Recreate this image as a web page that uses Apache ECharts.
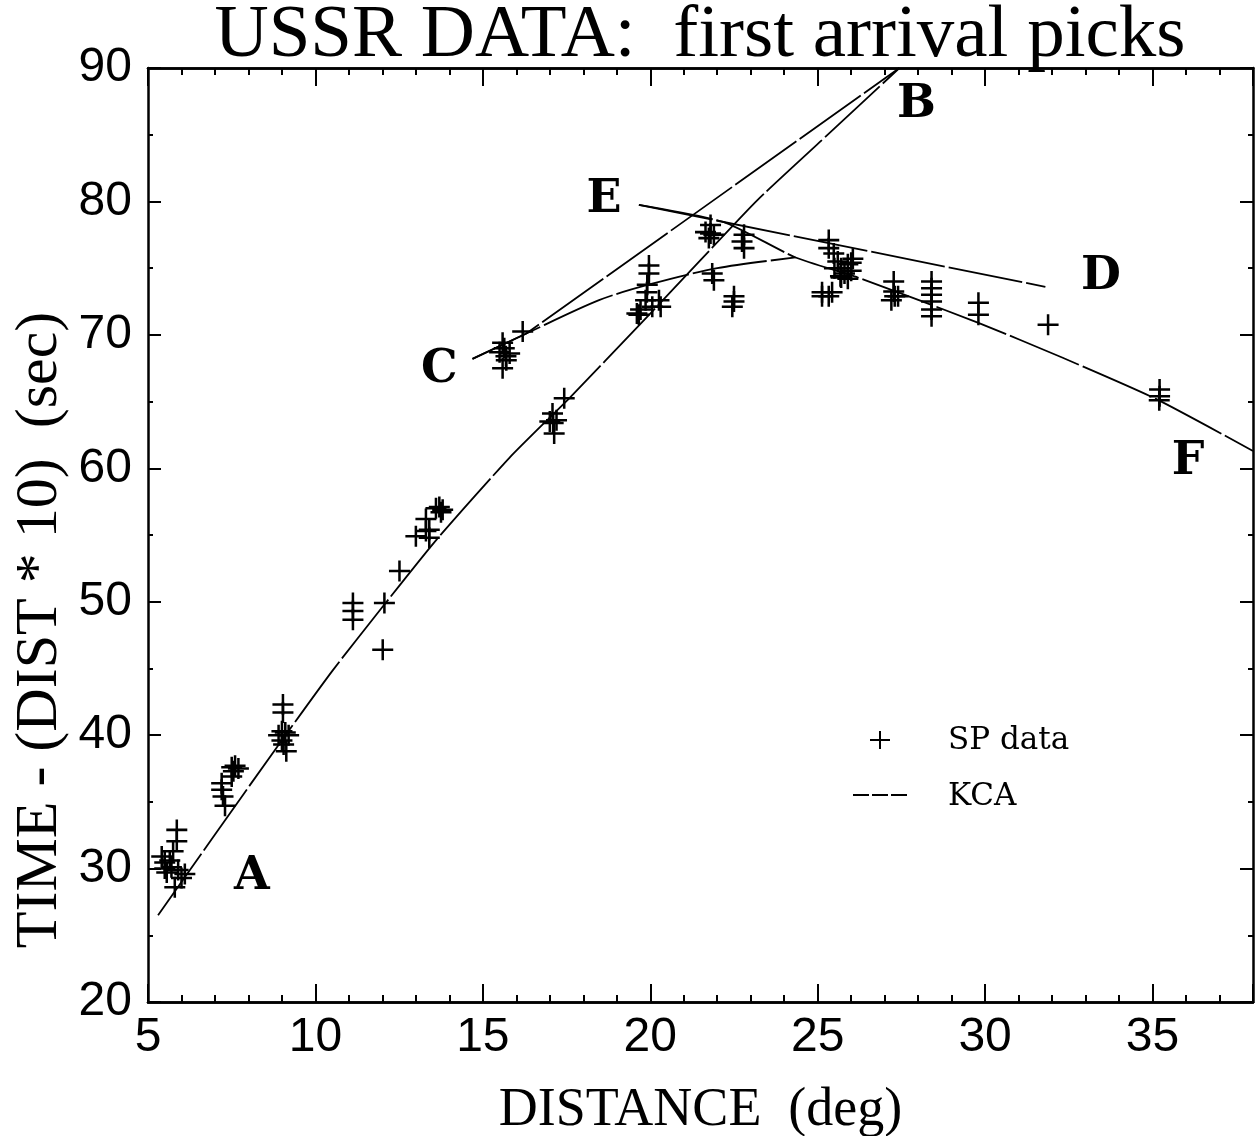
<!DOCTYPE html>
<html>
<head>
<meta charset="utf-8">
<title>USSR DATA: first arrival picks</title>
<script src="https://cdn.jsdelivr.net/npm/echarts@6/dist/echarts.min.js"></script>
<style>
  html, body { margin: 0; padding: 0; background: #fff; }
  #chart { width: 1256px; height: 1136px; }
</style>
</head>
<body>
<div id="chart"></div>
<script>
// SP data picks: distance (deg) vs reduced time (sec)
const spDistance = [
  5.86, 5.86, 5.75, 5.41, 5.5, 5.7, 5.9, 5.56, 5.8, 6.1, 6.0, 5.5, 5.65,
  7.2, 7.2, 7.24, 7.3, 7.5, 7.6, 7.7, 7.55, 7.5,
  9.03, 9.03, 8.9, 9.0, 9.1, 9.2, 9.05, 9.13, 9.0,
  11.12, 11.12, 11.12, 12.01, 12.06, 12.51,
  13.0, 13.3, 13.3, 13.4, 13.4, 13.6, 13.7, 13.8, 13.75,
  15.59, 15.64, 15.69, 15.7, 15.59, 15.5, 16.19, 15.8,
  17.0, 17.1, 17.2, 17.08, 17.13, 17.43,
  19.96, 19.96, 19.91, 19.86, 20.06, 20.31, 19.71, 19.66, 19.6, 20.26, 19.9,
  21.8, 21.8, 21.75, 21.9, 21.65, 21.85, 21.9, 22.5, 22.5, 22.45, 22.8, 22.74, 22.8,
  25.33, 25.33, 25.48, 25.6, 25.7, 25.8, 25.9, 26.0, 25.5, 25.7, 26.05, 25.68, 25.13, 25.43, 25.33, 25.13, 25.9, 26.0,
  27.27, 27.27, 27.3, 27.2, 27.4,
  28.4, 28.4, 28.4, 28.4, 28.4, 28.4,
  29.8, 29.8, 31.88,
  35.21, 35.21, 35.2
];
const spTime = [
  32.9, 32.05, 31.3, 30.9, 30.45, 30.1, 29.9, 29.7, 28.6, 29.6, 29.3, 30.0, 30.6,
  36.4, 35.9, 35.4, 34.7, 37.6, 37.7, 37.5, 37.3, 36.9,
  42.3, 41.7, 40.0, 39.6, 40.2, 40.0, 39.3, 38.8, 40.3,
  49.9, 49.3, 48.65, 46.4, 49.9, 52.3,
  54.9, 56.2, 55.3, 55.4, 54.8, 57.0, 57.1, 56.9, 56.7,
  69.4, 69.0, 68.4, 68.1, 67.5, 68.7, 70.25, 68.6,
  63.5, 63.4, 63.6, 64.1, 62.6, 65.25,
  75.2, 74.6, 73.75, 72.6, 72.1, 72.1, 71.9, 71.5, 71.6, 72.6, 73.2,
  78.24, 77.6, 77.25, 77.5, 77.7, 74.6, 74.1, 72.9, 72.5, 72.1, 76.5, 77.0, 77.5,
  77.1, 76.5, 76.1, 75.5, 75.0, 74.6, 75.3, 74.8, 75.0, 74.3, 75.7, 74.4, 73.2, 73.2, 72.9, 72.9, 74.2, 75.4,
  74.0, 73.25, 72.9, 72.6, 72.9,
  74.0, 73.5, 73.0, 72.5, 71.9, 71.4,
  72.4, 71.5, 70.75,
  65.9, 65.4, 65.1
];

// KCA travel-time branches
const kcaAB = [[5.3, 26.5], [6.9, 32.2], [8.85, 39.1], [10.5, 44.8], [12.0, 49.6], [13.6, 54.6],
  [15.8, 60.8], [17.6, 65.3], [19.7, 70.8], [21.5, 75.6], [23.2, 80.1], [25.3, 85.0], [27.44, 90]];
const kcaCB = [[14.69, 68.2], [16.3, 70.1], [27.44, 90]];
const kcaCF = [[14.69, 68.2], [16.3, 70.1], [18.47, 72.6], [20.0, 73.8], [22.0, 75.0], [24.34, 75.8]];
const kcaED = [[19.66, 79.74], [31.8, 73.6]];
const kcaEF = [[19.66, 79.74], [22.2, 78.45], [24.34, 75.8], [26.2, 74.3], [29.8, 70.9],
  [32.3, 68.3], [35.1, 65.2], [38, 61.3]];

// branch letters
const branchNames = ['A', 'B', 'C', 'D', 'E', 'F'];
const branchX = [8.1, 27.95, 13.7, 33.46, 18.62, 36.06];
const branchY = [29.4, 87.2, 67.4, 74.35, 80.1, 60.5];

const plusPath = 'path://M8.8,0h2.4v8.8h8.8v2.4h-8.8v8.8h-2.4v-8.8h-8.8v-2.4h8.8z';
const frame = { show: true, onZero: false, lineStyle: { color: '#000', width: 2.5 } };
const labelFont = 'Liberation Sans';

function xAxisDef(position, interval, tickLen, withLabels) {
  return {
    type: 'value', position: position, min: 5, max: 38, interval: interval,
    axisLine: frame,
    axisTick: { show: true, inside: true, length: tickLen, lineStyle: { color: '#000', width: 2 } },
    axisLabel: withLabels ? {
      show: true, color: '#000', fontFamily: labelFont, fontSize: 48, margin: 12,
      formatter: v => (v % 5 === 0 ? String(v) : '')
    } : { show: false },
    splitLine: { show: false },
    name: withLabels ? 'DISTANCE  (deg)' : '',
    nameLocation: 'middle',
    nameGap: 82,
    nameTextStyle: { color: '#000', fontFamily: 'Liberation Serif', fontSize: 54 }
  };
}

function yAxisDef(position, withLabels) {
  return {
    type: 'value', position: position, min: 20, max: 90, interval: 10,
    axisLine: frame,
    axisTick: { show: true, inside: true, length: 13, lineStyle: { color: '#000', width: 2 } },
    minorTick: { show: true, splitNumber: 2, length: 5, lineStyle: { color: '#000', width: 2 } },
    axisLabel: withLabels ? {
      show: true, color: '#000', fontFamily: labelFont, fontSize: 48, margin: 16
    } : { show: false },
    splitLine: { show: false }
  };
}

function kcaSeries(data, smooth) {
  return {
    name: 'KCA', type: 'line', data: data, smooth: smooth, symbol: 'none',
    clip: true, silent: true,
    lineStyle: { color: '#000', width: 1.8, type: [75, 4] }
  };
}

const chart = echarts.init(document.getElementById('chart'), null, { renderer: 'canvas' });

const option = {
  backgroundColor: '#fff',
  animation: false,
  grid: { left: 148, right: 3, top: 68, bottom: 134, containLabel: false, outerBoundsMode: 'none' },
  xAxis: [
    xAxisDef('bottom', 5, 18, true),
    xAxisDef('bottom', 1, 7, false),
    xAxisDef('top', 5, 18, false),
    xAxisDef('top', 1, 7, false)
  ],
  yAxis: [yAxisDef('left', true), yAxisDef('right', false)],
  series: [
    {
      name: 'SP data', type: 'scatter', symbol: plusPath, symbolSize: 21,
      itemStyle: { color: '#000', opacity: 1 },
      data: spDistance.map((d, i) => [d, spTime[i]])
    },
    kcaSeries(kcaAB, 0.2),
    kcaSeries(kcaCB, false),
    kcaSeries(kcaCF, 0.3),
    kcaSeries(kcaED, false),
    kcaSeries(kcaEF, 0.2),
    {
      name: 'branches', type: 'scatter', symbolSize: 1, silent: true,
      itemStyle: { color: 'transparent', opacity: 1 },
      label: {
        show: true, position: 'inside', color: '#000',
        fontFamily: 'DejaVu Serif', fontWeight: 'bold', fontSize: 46,
        formatter: p => p.data.name
      },
      data: branchNames.map((n, i) => ({ name: n, value: [branchX[i], branchY[i]] }))
    }
  ],
  graphic: [
    {
      type: 'text', x: 700, y: 36,
      style: {
        text: 'USSR DATA:  first arrival picks', fill: '#000',
        font: '75px "Liberation Serif"', textAlign: 'center', textVerticalAlign: 'middle'
      }
    },
    {
      type: 'text', x: 40, y: 630, rotation: Math.PI / 2,
      style: {
        text: 'TIME - (DIST * 10)  (sec)', fill: '#000',
        font: '60px "Liberation Serif"', textAlign: 'center', textVerticalAlign: 'middle'
      }
    },
    // legend
    { type: 'line', shape: { x1: 870, y1: 740, x2: 890, y2: 740 }, style: { stroke: '#000', lineWidth: 2 } },
    { type: 'line', shape: { x1: 880, y1: 731, x2: 880, y2: 749 }, style: { stroke: '#000', lineWidth: 2 } },
    {
      type: 'text', x: 948, y: 741,
      style: { text: 'SP data', fill: '#000', font: '31px "DejaVu Serif"', textVerticalAlign: 'middle' }
    },
    {
      type: 'line', shape: { x1: 853, y1: 795, x2: 908, y2: 795 },
      style: { stroke: '#000', lineWidth: 2, lineDash: [16, 3] }
    },
    {
      type: 'text', x: 948, y: 797,
      style: { text: 'KCA', fill: '#000', font: '31px "DejaVu Serif"', textVerticalAlign: 'middle' }
    }
  ]
};

chart.setOption(option);
</script>
</body>
</html>
